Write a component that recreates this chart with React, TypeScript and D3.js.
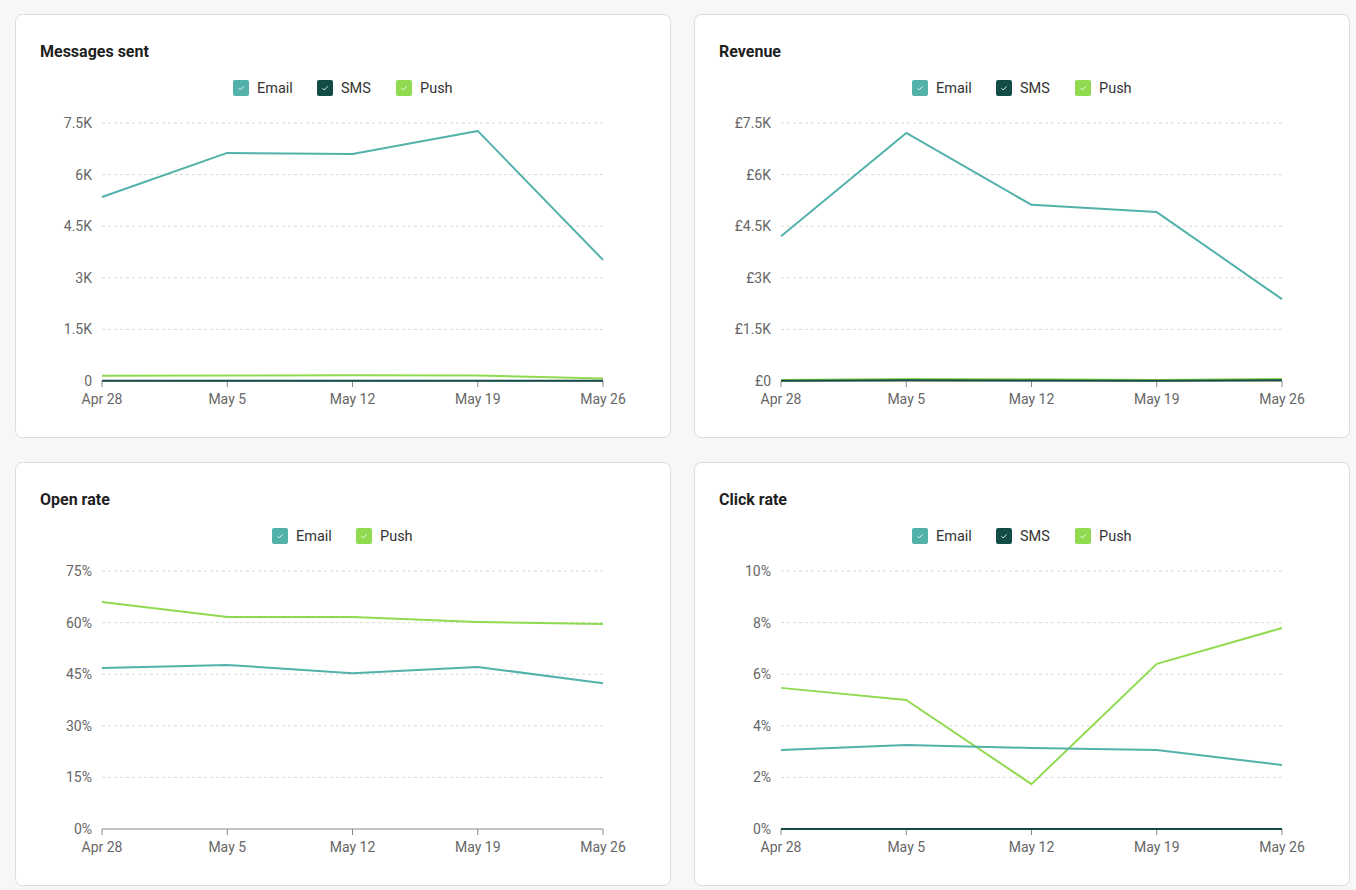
import React from "react";
import * as d3 from "d3";

const weeks = ["Apr 28", "May 5", "May 12", "May 19", "May 26"];

const sentEmail = [5350, 6630, 6600, 7270, 3520];
const sentSms = [5, 5, 5, 5, 5];
const sentPush = [150, 160, 170, 160, 70];
const sentTicks = [0, 1500, 3000, 4500, 6000, 7500];

const revEmail = [4210, 7210, 5120, 4910, 2380];
const revSms = [5, 20, 15, 10, 20];
const revPush = [30, 60, 50, 30, 60];
const revTicks = [0, 1500, 3000, 4500, 6000, 7500];

const openEmail = [46.8, 47.7, 45.3, 47.1, 42.4];
const openPush = [66.0, 61.6, 61.6, 60.2, 59.6];
const openTicks = [0, 15, 30, 45, 60, 75];

const clickEmail = [3.06, 3.26, 3.14, 3.06, 2.48];
const clickSms = [0, 0, 0, 0, 0];
const clickPush = [5.47, 5.0, 1.74, 6.4, 7.79];
const clickTicks = [0, 2, 4, 6, 8, 10];

const COLORS: Record<string, string> = {
  Email: "#52b2aa",
  SMS: "#134c46",
  Push: "#8fda4f",
};

const FONT = "Roboto, 'Noto Sans', sans-serif";

type Series = { name: string; values: number[] };

const fmtK = (v: number) => (v === 0 ? "0" : `${d3.format("~g")(v / 1000)}K`);
const fmtGBP = (v: number) => (v === 0 ? "£0" : `£${d3.format("~g")(v / 1000)}K`);
const fmtPct = (v: number) => `${v}%`;

function Panel({
  x,
  y,
  title,
  series,
  ticks,
  fmt,
  legendXs,
}: {
  x: number;
  y: number;
  title: string;
  series: Series[];
  ticks: number[];
  fmt: (v: number) => string;
  legendXs: number[];
}) {
  const w = 655;
  const h = 423;
  const plotL = 87;
  const plotR = 588;
  const plotT = 109;
  const plotB = 367;
  const xs = d3.scalePoint<string>().domain(weeks).range([plotL, plotR]);
  const ys = d3
    .scaleLinear()
    .domain([0, ticks[ticks.length - 1]])
    .range([plotB, plotT]);
  const line = d3
    .line<number>()
    .x((_, i) => xs(weeks[i]) as number)
    .y((d) => ys(d));

  // draw order: Push first, then SMS, then Email on top
  const drawOrder = [...series].reverse();

  return (
    <g transform={`translate(${x},${y})`}>
      <rect
        x={0.5}
        y={0.5}
        width={w}
        height={h}
        rx={7}
        fill="#ffffff"
        stroke="#dcdcdc"
      />
      <text
        x={25}
        y={43}
        fontFamily={FONT}
        fontSize={16}
        fontWeight={700}
        fill="#1f1f1f"
      >
        {title}
      </text>
      {series.map((s, i) => (
        <g key={s.name} transform={`translate(${legendXs[i]},66)`}>
          <rect width={16} height={16} rx={2} fill={COLORS[s.name]} />
          <path
            d="M5.5 8.2 L7.3 10 L10.6 6.4"
            fill="none"
            stroke="#ffffff"
            strokeOpacity={0.85}
            strokeWidth={1}
          />
          <text
            x={24}
            y={13}
            fontFamily={FONT}
            fontSize={14.5}
            fill="#333333"
          >
            {s.name}
          </text>
        </g>
      ))}
      {ticks.map((t) => (
        <g key={t}>
          {t !== 0 && (
            <line
              x1={plotL}
              x2={plotR}
              y1={ys(t)}
              y2={ys(t)}
              stroke="#d9d9d9"
              strokeDasharray="3 3"
            />
          )}
          <text
            x={plotL - 10}
            y={ys(t)}
            dy="0.35em"
            textAnchor="end"
            fontFamily={FONT}
            fontSize={14}
            fill="#666666"
          >
            {fmt(t)}
          </text>
        </g>
      ))}
      <line
        x1={plotL}
        x2={plotR}
        y1={plotB}
        y2={plotB}
        stroke="#888888"
      />
      {weeks.map((wk) => (
        <g key={wk}>
          <line
            x1={xs(wk)}
            x2={xs(wk)}
            y1={plotB}
            y2={plotB + 6}
            stroke="#888888"
          />
          <text
            x={xs(wk)}
            y={plotB + 23}
            textAnchor="middle"
            fontFamily={FONT}
            fontSize={14}
            fill="#666666"
          >
            {wk}
          </text>
        </g>
      ))}
      {drawOrder.map((s) => (
        <path
          key={s.name}
          d={line(s.values) || ""}
          fill="none"
          stroke={COLORS[s.name]}
          strokeWidth={2}
          strokeLinejoin="round"
        />
      ))}
    </g>
  );
}

export default function App() {
  const threeLegend = [218, 302, 381];
  const twoLegend = [257, 341];
  return (
    <div
      style={{
        position: "fixed",
        left: 0,
        top: 0,
        width: 1356,
        height: 890,
        background: "#f7f7f7",
      }}
    >
      <svg width={1356} height={890}>
        <Panel
          x={15}
          y={14}
          title="Messages sent"
          series={[
            { name: "Email", values: sentEmail },
            { name: "SMS", values: sentSms },
            { name: "Push", values: sentPush },
          ]}
          ticks={sentTicks}
          fmt={fmtK}
          legendXs={threeLegend}
        />
        <Panel
          x={694}
          y={14}
          title="Revenue"
          series={[
            { name: "Email", values: revEmail },
            { name: "SMS", values: revSms },
            { name: "Push", values: revPush },
          ]}
          ticks={revTicks}
          fmt={fmtGBP}
          legendXs={threeLegend}
        />
        <Panel
          x={15}
          y={462}
          title="Open rate"
          series={[
            { name: "Email", values: openEmail },
            { name: "Push", values: openPush },
          ]}
          ticks={openTicks}
          fmt={fmtPct}
          legendXs={twoLegend}
        />
        <Panel
          x={694}
          y={462}
          title="Click rate"
          series={[
            { name: "Email", values: clickEmail },
            { name: "SMS", values: clickSms },
            { name: "Push", values: clickPush },
          ]}
          ticks={clickTicks}
          fmt={fmtPct}
          legendXs={threeLegend}
        />
      </svg>
    </div>
  );
}
